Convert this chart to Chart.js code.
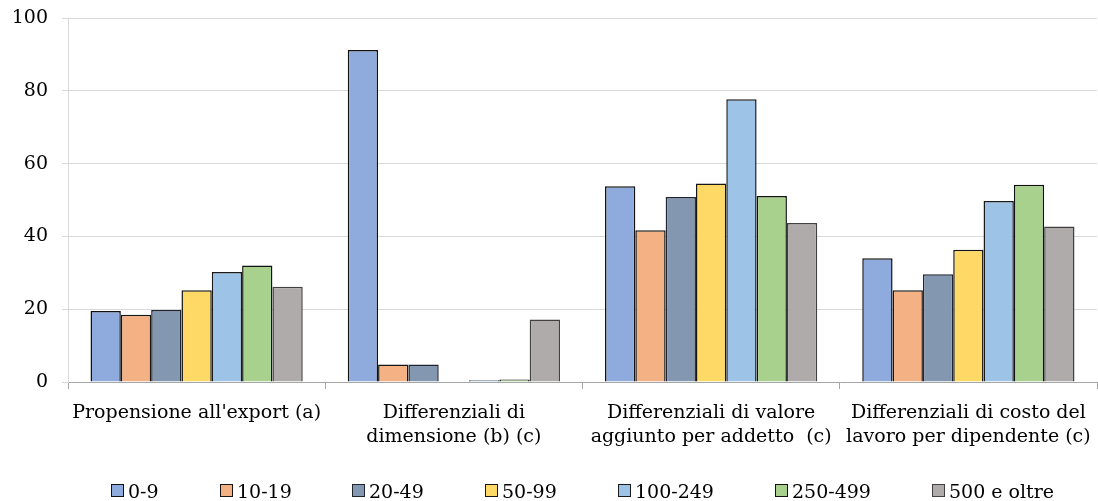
<html>
  <head>
    <script src="https://cdn.jsdelivr.net/npm/chart.js@4.4.0/dist/chart.umd.min.js"></script>
    <title>classi_addetti</title>
    <style>
      body { margin: 0; background: #fff; }
      #wrap { position: relative; width: 1098px; height: 501px; }
    </style>
  </head>
  <body>
    <div id="wrap"><canvas id="myChart"></canvas></div>
    <script>
// categorie (asse x)
const categorie = [
  ["Propensione all'export (a)"],
  ["Differenziali di", "dimensione (b) (c)"],
  ["Differenziali di valore", "aggiunto per addetto  (c)"],
  ["Differenziali di costo del", "lavoro per dipendente (c)"]
];

// classi di addetti
const classi = ["0-9", "10-19", "20-49", "50-99", "100-249", "250-499", "500 e oltre"];

const v0_9     = [19.5, 91.2, 53.8, 34.0];
const v10_19   = [18.5, 4.8, 41.7, 25.2];
const v20_49   = [19.8, 4.8, 50.8, 29.6];
const v50_99   = [25.2, 0, 54.5, 36.3];
const v100_249 = [30.2, 0.5, 77.7, 49.7];
const v250_499 = [32.0, 0.7, 51.1, 54.2];
const v500     = [26.2, 17.2, 43.7, 42.7];

const yTicks = [0, 20, 40, 60, 80, 100];

const valori = [v0_9, v10_19, v20_49, v50_99, v100_249, v250_499, v500];
const colori = ["#8FAADC", "#F4B183", "#8497B0", "#FFD966", "#9DC3E6", "#A9D18E", "#AFABAB"];
const bordi  = ["#111111", "#161616", "#1e2530", "#161616", "#1a1a1a", "#111111", "#404040"];

const FONT = '"DejaVu Serif", serif';
const FSIZE = 19;

const datasets = classi.map((c, i) => ({
  label: c,
  data: valori[i],
  backgroundColor: colori[i],
  borderColor: bordi[i],
  borderWidth: 1.5,
  categoryPercentage: 0.825,
  barPercentage: 1
}));

// legenda disegnata a mano, centrata sull'area del grafico
const legendaSotto = {
  id: 'legendaSotto',
  afterDraw(chart) {
    const ctx = chart.ctx;
    const area = chart.chartArea;
    ctx.save();
    ctx.font = FSIZE + 'px ' + FONT;
    const box = 12, gapTesto = 5, gapItem = 61;
    const larghezze = classi.map(t => box + gapTesto + ctx.measureText(t).width);
    const totale = larghezze.reduce((a, b) => a + b, 0) + gapItem * (classi.length - 1);
    let x = Math.round((area.left + area.right) / 2 - totale / 2);
    const yBox = chart.height - 17;
    classi.forEach((t, i) => {
      const xb = Math.round(x);
      ctx.fillStyle = colori[i];
      ctx.fillRect(xb + 0.5, yBox + 0.5, box, box);
      ctx.strokeStyle = bordi[i];
      ctx.lineWidth = 1;
      ctx.strokeRect(xb + 0.5, yBox + 0.5, box, box);
      ctx.fillStyle = '#000';
      ctx.textBaseline = 'alphabetic';
      ctx.textAlign = 'left';
      ctx.fillText(t, xb + box + gapTesto, chart.height - 3);
      x += larghezze[i] + gapItem;
    });
    ctx.restore();
  }
};

var ctx = document.getElementById("myChart");
var myChart = new Chart(ctx, {
  type: 'bar',
  data: {
    labels: categorie,
    datasets: datasets
  },
  plugins: [legendaSotto],
  options: {
    responsive: true,
    maintainAspectRatio: false,
    animation: false,
    layout: {
      padding: { top: 18, right: 1, left: 0, bottom: 0 }
    },
    plugins: {
      legend: { display: false },
      tooltip: { enabled: false }
    },
    scales: {
      x: {
        afterFit(scale) {
          scale.height = 119;
          scale.paddingLeft = 0;
          scale.paddingRight = 0;
        },
        grid: {
          drawOnChartArea: false,
          drawTicks: true,
          tickLength: 7,
          color: '#a6a6a6'
        },
        border: { color: '#a6a6a6', width: 1 },
        ticks: {
          autoSkip: false,
          maxRotation: 0,
          minRotation: 0,
          padding: 12,
          color: '#000',
          font: { family: FONT, size: FSIZE, lineHeight: 1.25 }
        }
      },
      y: {
        min: 0,
        max: 100,
        afterFit(scale) {
          scale.width = 68;
          scale.paddingTop = 0;
          scale.paddingBottom = 0;
        },
        afterBuildTicks(scale) { scale.ticks = yTicks.map(v => ({ value: v })); },
        grid: {
          color: '#d9d9d9',
          drawTicks: true,
          tickLength: 6
        },
        border: { color: '#d9d9d9', width: 1 },
        ticks: {
          padding: 14,
          color: '#000',
          font: { family: FONT, size: FSIZE }
        }
      }
    }
  }
});
    </script>
  </body>
</html>
